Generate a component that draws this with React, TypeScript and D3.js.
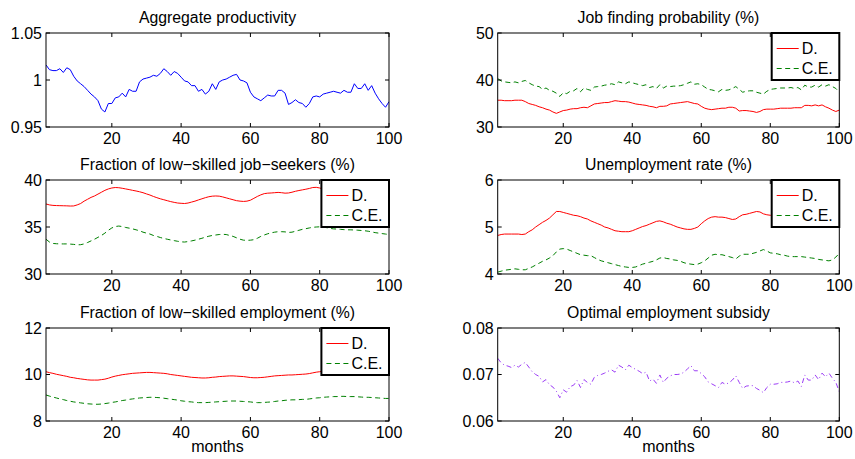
import React from "react";
import * as d3 from "d3";

// Simulated paths over 100 months
const months: number[] = d3.range(1, 101);

const productivity: number[] = [
  1.016, 1.011, 1.010, 1.010, 1.012, 1.008, 1.013, 1.011, 1.004, 0.999,
  0.996, 0.993, 0.989, 0.985, 0.982, 0.978, 0.969, 0.966, 0.975, 0.975,
  0.981, 0.982, 0.986, 0.982, 0.990, 0.988, 0.988, 0.998, 1.001, 1.002,
  1.003, 1.005, 1.004, 1.007, 1.012, 1.009, 1.005, 1.009, 1.007, 1.003,
  0.999, 0.998, 0.994, 0.994, 0.988, 0.990, 0.985, 0.988, 0.996, 0.990,
  0.998, 1.000, 1.001, 1.003, 1.005, 1.006, 1.000, 0.999, 0.997, 0.987,
  0.982, 0.980, 0.978, 0.981, 0.984, 0.983, 0.983, 0.989, 0.989, 0.986,
  0.974, 0.976, 0.979, 0.976, 0.975, 0.971, 0.975, 0.982, 0.983, 0.982,
  0.985, 0.986, 0.987, 0.988, 0.987, 0.986, 0.989, 0.987, 0.987, 0.996,
  0.991, 0.991, 0.996, 0.989, 0.994, 0.986, 0.980, 0.975, 0.971, 0.977,
];

const jobFindingD: number[] = [
  35.7, 35.7, 35.6, 35.6, 35.6, 35.7, 35.7, 35.7, 35.4, 35.0,
  34.8, 34.6, 34.3, 34.1, 33.8, 33.6, 33.2, 32.9, 33.2, 33.5,
  33.6, 33.8, 33.9, 33.9, 34.1, 34.2, 34.1, 34.5, 34.9, 35.0,
  35.1, 35.2, 35.2, 35.4, 35.6, 35.5, 35.4, 35.4, 35.3, 35.1,
  34.9, 34.8, 34.7, 34.6, 34.4, 34.3, 34.1, 34.4, 34.4, 34.5,
  34.9, 35.0, 35.1, 35.2, 35.3, 35.4, 35.2, 35.0, 34.9, 34.4,
  34.0, 33.8, 33.7, 33.8, 33.9, 34.0, 34.0, 34.2, 34.2, 34.0,
  33.4, 33.5, 33.5, 33.4, 33.3, 33.1, 33.3, 33.7, 33.8, 33.8,
  33.8, 33.9, 34.0, 34.0, 34.0, 34.0, 34.1, 34.1, 34.1, 34.6,
  34.6, 34.5, 34.7, 34.5, 34.7, 34.3, 34.0, 33.6, 33.3, 33.6,
];

const jobFindingCE: number[] = [
  40.3, 39.8, 39.6, 39.5, 39.4, 39.6, 39.4, 39.7, 39.9, 39.4,
  39.0, 38.7, 38.6, 38.0, 38.3, 37.8, 37.6, 37.2, 36.5, 37.3,
  37.1, 37.6, 37.7, 38.2, 37.5, 38.3, 38.0, 37.8, 38.5, 38.6,
  38.7, 38.9, 39.0, 39.2, 39.0, 39.6, 39.4, 39.2, 39.6, 39.4,
  39.2, 39.0, 38.8, 39.0, 38.4, 38.6, 38.2, 39.0, 38.3, 38.7,
  38.6, 38.7, 38.7, 38.8, 39.0, 39.3, 39.6, 39.1, 39.2, 39.0,
  38.5, 38.0, 37.9, 37.7, 37.5, 38.0, 37.8, 37.9, 38.2, 38.6,
  38.0, 37.4, 37.6, 37.7, 37.7, 37.4, 37.2, 37.0, 37.6, 38.0,
  38.1, 38.2, 38.3, 38.3, 38.3, 38.4, 38.2, 38.4, 37.9, 38.9,
  38.5, 38.5, 38.9, 38.5, 39.0, 38.7, 39.0, 38.6, 38.2, 37.4,
];

const seekersD: number[] = [
  37.45, 37.35, 37.3, 37.28, 37.27, 37.26, 37.25, 37.23, 37.24, 37.35,
  37.5, 37.75, 37.95, 38.15, 38.3, 38.5, 38.7, 38.9, 39.05, 39.15,
  39.2, 39.18, 39.12, 39.05, 38.98, 38.9, 38.83, 38.75, 38.65, 38.52,
  38.4, 38.25, 38.12, 38.0, 37.9, 37.8, 37.7, 37.62, 37.55, 37.52,
  37.5, 37.55, 37.65, 37.75, 37.88, 38.0, 38.12, 38.22, 38.28, 38.3,
  38.28, 38.2, 38.1, 38.0, 37.9, 37.8, 37.75, 37.72, 37.75, 37.85,
  38.05, 38.25, 38.42, 38.55, 38.6, 38.62, 38.65, 38.68, 38.65, 38.6,
  38.62, 38.7, 38.8, 38.88, 38.95, 39.02, 39.1, 39.2, 39.22, 39.15,
  39.05, 39.0, 38.95, 38.95, 38.95, 38.93, 38.9, 38.88, 38.86, 38.84,
  38.82, 38.8, 38.78, 38.75, 38.7, 38.65, 38.6, 38.57, 38.54, 38.5,
];

const seekersCE: number[] = [
  33.7, 33.4, 33.25, 33.22, 33.2, 33.2, 33.2, 33.18, 33.15, 33.1,
  33.12, 33.2, 33.35, 33.52, 33.7, 33.9, 34.1, 34.35, 34.65, 34.9,
  35.05, 35.1, 35.05, 34.95, 34.88, 34.8, 34.7, 34.6, 34.45, 34.35,
  34.25, 34.1, 34.0, 33.88, 33.78, 33.7, 33.62, 33.55, 33.48, 33.42,
  33.4, 33.45, 33.52, 33.6, 33.7, 33.8, 33.92, 34.02, 34.1, 34.15,
  34.2, 34.22, 34.2, 34.1, 34.0, 33.85, 33.7, 33.6, 33.58, 33.6,
  33.65, 33.8, 34.0, 34.15, 34.28, 34.38, 34.45, 34.5, 34.5, 34.48,
  34.42, 34.45, 34.55, 34.65, 34.75, 34.82, 34.9, 34.97, 35.0, 35.02,
  35.0, 34.93, 34.85, 34.8, 34.78, 34.75, 34.72, 34.7, 34.7, 34.68,
  34.66, 34.63, 34.6, 34.55, 34.48, 34.4, 34.35, 34.3, 34.25, 34.2,
];

const unempD: number[] = [
  4.82, 4.84, 4.85, 4.85, 4.85, 4.85, 4.85, 4.84, 4.85, 4.9,
  4.94, 5.0, 5.05, 5.1, 5.14, 5.19, 5.26, 5.33, 5.33, 5.31,
  5.29, 5.27, 5.25, 5.24, 5.22, 5.19, 5.17, 5.13, 5.1, 5.07,
  5.04, 5.0, 4.98, 4.95, 4.92, 4.91, 4.9, 4.9, 4.9, 4.92,
  4.95, 4.98, 5.01, 5.03, 5.06, 5.09, 5.12, 5.13, 5.11, 5.08,
  5.06, 5.03, 5.0, 4.98, 4.96, 4.95, 4.95, 4.97, 5.0, 5.07,
  5.13, 5.18, 5.21, 5.22, 5.21, 5.21, 5.2, 5.18, 5.16, 5.17,
  5.22, 5.26, 5.27, 5.29, 5.31, 5.33, 5.32, 5.28, 5.26, 5.25,
  5.24, 5.22, 5.2, 5.18, 5.17, 5.16, 5.15, 5.15, 5.15, 5.14,
  5.13, 5.12, 5.11, 5.1, 5.09, 5.08, 5.08, 5.1, 5.13, 5.17,
];

const unempCE: number[] = [
  4.04, 4.06, 4.08, 4.09, 4.1, 4.11, 4.1, 4.09, 4.09, 4.12,
  4.15, 4.19, 4.23, 4.27, 4.3, 4.34, 4.39, 4.47, 4.53, 4.54,
  4.53, 4.5, 4.47, 4.44, 4.41, 4.4, 4.39, 4.39, 4.35, 4.31,
  4.28, 4.26, 4.24, 4.22, 4.2, 4.18, 4.16, 4.15, 4.14, 4.14,
  4.15, 4.18, 4.21, 4.23, 4.25, 4.27, 4.3, 4.34, 4.35, 4.33,
  4.32, 4.3, 4.29, 4.27, 4.24, 4.22, 4.21, 4.2, 4.21, 4.24,
  4.28, 4.34, 4.4, 4.42, 4.41, 4.41, 4.39, 4.37, 4.35, 4.32,
  4.38, 4.42, 4.42, 4.42, 4.44, 4.46, 4.49, 4.52, 4.49, 4.45,
  4.44, 4.43, 4.41, 4.4, 4.38, 4.37, 4.37, 4.37, 4.37, 4.36,
  4.35, 4.34, 4.33, 4.31, 4.3, 4.29, 4.28, 4.3, 4.36, 4.44,
];

const employD: number[] = [
  10.12, 10.08, 10.05, 10.01, 9.98, 9.95, 9.92, 9.88, 9.86, 9.83,
  9.81, 9.79, 9.77, 9.76, 9.76, 9.76, 9.78, 9.8, 9.84, 9.89,
  9.93, 9.96, 9.99, 10.01, 10.03, 10.05, 10.06, 10.07, 10.08, 10.09,
  10.09, 10.08, 10.07, 10.06, 10.05, 10.03, 10.0, 9.98, 9.96, 9.94,
  9.92, 9.9, 9.88, 9.87, 9.86, 9.85, 9.85, 9.86, 9.88, 9.89,
  9.91, 9.92, 9.93, 9.94, 9.94, 9.93, 9.92, 9.91, 9.89, 9.87,
  9.86, 9.86, 9.87, 9.88, 9.9, 9.92, 9.94, 9.95, 9.96, 9.97,
  9.98, 9.98, 9.99, 10.0, 10.01, 10.02, 10.04, 10.07, 10.1, 10.12,
  10.14, 10.15, 10.16, 10.17, 10.17, 10.17, 10.16, 10.16, 10.15, 10.15,
  10.14, 10.14, 10.13, 10.13, 10.12, 10.12, 10.11, 10.11, 10.1, 10.1,
];

const employCE: number[] = [
  9.12, 9.07, 9.03, 8.99, 8.95, 8.92, 8.88, 8.85, 8.82, 8.8,
  8.78, 8.76, 8.74, 8.73, 8.72, 8.72, 8.73, 8.75, 8.77, 8.8,
  8.82, 8.85, 8.88, 8.9, 8.93, 8.95, 8.97, 8.99, 9.0, 9.01,
  9.02, 9.02, 9.01, 9.0, 8.98, 8.96, 8.94, 8.92, 8.9, 8.87,
  8.85, 8.83, 8.82, 8.8, 8.79, 8.79, 8.79, 8.8, 8.81, 8.82,
  8.83, 8.84, 8.85, 8.86, 8.86, 8.86, 8.85, 8.84, 8.83, 8.82,
  8.8, 8.79, 8.79, 8.8, 8.81, 8.82, 8.84, 8.86, 8.87, 8.89,
  8.9, 8.91, 8.91, 8.92, 8.93, 8.93, 8.95, 8.97, 8.99, 9.0,
  9.02, 9.03, 9.04, 9.05, 9.05, 9.06, 9.06, 9.05, 9.05, 9.05,
  9.04, 9.03, 9.02, 9.02, 9.01, 9.0, 8.99, 8.98, 8.97, 8.97,
];

const subsidy: number[] = [
  0.0735, 0.0725, 0.0720, 0.0718, 0.0715, 0.0720, 0.0716, 0.0722, 0.0726, 0.0716,
  0.0706, 0.0700, 0.0696, 0.0684, 0.0689, 0.0678, 0.0673, 0.0664, 0.0650, 0.0667,
  0.0662, 0.0674, 0.0677, 0.0687, 0.0672, 0.0689, 0.0683, 0.0679, 0.0694, 0.0698,
  0.0700, 0.0703, 0.0707, 0.0710, 0.0705, 0.0720, 0.0716, 0.0710, 0.0720, 0.0715,
  0.0711, 0.0707, 0.0702, 0.0705, 0.0686, 0.0690, 0.0681, 0.0699, 0.0683, 0.0692,
  0.0697, 0.0700, 0.0700, 0.0701, 0.0705, 0.0712, 0.0719, 0.0708, 0.0708, 0.0702,
  0.0695, 0.0684, 0.0680, 0.0676, 0.0672, 0.0683, 0.0679, 0.0682, 0.0688, 0.0697,
  0.0683, 0.0670, 0.0675, 0.0676, 0.0676, 0.0670, 0.0666, 0.0661, 0.0672, 0.0679,
  0.0679, 0.0680, 0.0683, 0.0683, 0.0684, 0.0686, 0.0682, 0.0686, 0.0674, 0.0699,
  0.0688, 0.0688, 0.0699, 0.0689, 0.0703, 0.0695, 0.0703, 0.0692, 0.0683, 0.0663,
];

const xTicks: number[] = [20, 40, 60, 80, 100];
const legendLabels: string[] = ["D.", "C.E."];

const FONT = "'Liberation Sans', Arial, Helvetica, sans-serif";
const RED = "#ff0000";
const GREEN = "#008000";
const DASH = "5,3.5";

type Series = { values: number[]; color: string; dash?: string };

type PanelProps = {
  id: string;
  x0: number;
  x1: number;
  y0: number;
  y1: number;
  title: string;
  yDomain: [number, number];
  yTicks: number[];
  series: Series[];
  legend?: boolean;
  xLabel?: string;
};

function Panel({ id, x0, x1, y0, y1, title, yDomain, yTicks, series, legend, xLabel }: PanelProps) {
  const xs = d3.scaleLinear().domain([1, 100]).range([x0, x1]);
  const ys = d3.scaleLinear().domain(yDomain).range([y1, y0]);
  const line = d3
    .line<number>()
    .x((_, i) => xs(months[i]))
    .y((d) => ys(d));
  const tl = 4;
  const lw = 67.6;
  const lh = 47;
  const lx = x1 - lw;
  const ly = y0;
  return (
    <g>
      <defs>
        <clipPath id={id}>
          <rect x={x0} y={y0} width={x1 - x0} height={y1 - y0} />
        </clipPath>
      </defs>
      <g clipPath={`url(#${id})`}>
        {series.map((s, i) => (
          <path
            key={i}
            d={line(s.values) || ""}
            fill="none"
            stroke={s.color}
            strokeWidth={1}
            strokeDasharray={s.dash}
          />
        ))}
      </g>
      <rect x={x0} y={y0} width={x1 - x0} height={y1 - y0} fill="none" stroke="#000" strokeWidth={1} />
      {yTicks.map((t) => (
        <g key={`y${t}`}>
          <line x1={x0} x2={x0 + tl} y1={ys(t)} y2={ys(t)} stroke="#000" />
          <line x1={x1 - tl} x2={x1} y1={ys(t)} y2={ys(t)} stroke="#000" />
          <text x={x0 - 4} y={ys(t) + 5.5} textAnchor="end" fontSize={16} fontFamily={FONT} fill="#000">
            {String(t)}
          </text>
        </g>
      ))}
      {xTicks.map((t) => (
        <g key={`x${t}`}>
          <line x1={xs(t)} x2={xs(t)} y1={y1} y2={y1 - tl} stroke="#000" />
          <line x1={xs(t)} x2={xs(t)} y1={y0} y2={y0 + tl} stroke="#000" />
          <text x={xs(t)} y={y1 + 16.5} textAnchor="middle" fontSize={16} fontFamily={FONT} fill="#000">
            {t}
          </text>
        </g>
      ))}
      <text x={(x0 + x1) / 2} y={y0 - 10} textAnchor="middle" fontSize={15.8} fontFamily={FONT} fill="#000">
        {title}
      </text>
      {xLabel && (
        <text x={(x0 + x1) / 2} y={y1 + 31} textAnchor="middle" fontSize={16} fontFamily={FONT} fill="#000">
          {xLabel}
        </text>
      )}
      {legend && (
        <g>
          <rect x={lx} y={ly} width={lw} height={lh} fill="#fff" stroke="#000" strokeWidth={2} />
          {series.map((s, i) => {
            const cy = ly + 15.5 + i * 20;
            return (
              <g key={`l${i}`}>
                <line x1={lx + 5} x2={lx + 27} y1={cy} y2={cy} stroke={s.color} strokeDasharray={s.dash} />
                <text x={lx + 30} y={cy + 5.5} fontSize={16} fontFamily={FONT} fill="#000">
                  {legendLabels[i]}
                </text>
              </g>
            );
          })}
        </g>
      )}
    </g>
  );
}

const COLS = [
  { x0: 46, x1: 389 },
  { x0: 497.7, x1: 839.3 },
];
const ROWS = [
  { y0: 33, y1: 127 },
  { y0: 180, y1: 274 },
  { y0: 328, y1: 421 },
];

export default function App() {
  return (
    <svg
      width={855}
      height={459}
      viewBox="0 0 855 459"
      style={{ position: "absolute", left: 0, top: 0, background: "#fff" }}
    >
      <rect width={855} height={459} fill="#fff" />
      <Panel
        id="c1"
        {...COLS[0]}
        {...ROWS[0]}
        title="Aggregate productivity"
        yDomain={[0.95, 1.05]}
        yTicks={[0.95, 1, 1.05]}
        series={[{ values: productivity, color: "#0000ff" }]}
      />
      <Panel
        id="c2"
        {...COLS[1]}
        {...ROWS[0]}
        title="Job finding probability (%)"
        yDomain={[30, 50]}
        yTicks={[30, 40, 50]}
        series={[
          { values: jobFindingD, color: RED },
          { values: jobFindingCE, color: GREEN, dash: DASH },
        ]}
        legend
      />
      <Panel
        id="c3"
        {...COLS[0]}
        {...ROWS[1]}
        title="Fraction of low−skilled job−seekers (%)"
        yDomain={[30, 40]}
        yTicks={[30, 35, 40]}
        series={[
          { values: seekersD, color: RED },
          { values: seekersCE, color: GREEN, dash: DASH },
        ]}
        legend
      />
      <Panel
        id="c4"
        {...COLS[1]}
        {...ROWS[1]}
        title="Unemployment rate (%)"
        yDomain={[4, 6]}
        yTicks={[4, 5, 6]}
        series={[
          { values: unempD, color: RED },
          { values: unempCE, color: GREEN, dash: DASH },
        ]}
        legend
      />
      <Panel
        id="c5"
        {...COLS[0]}
        {...ROWS[2]}
        title="Fraction of low−skilled employment (%)"
        yDomain={[8, 12]}
        yTicks={[8, 10, 12]}
        series={[
          { values: employD, color: RED },
          { values: employCE, color: GREEN, dash: DASH },
        ]}
        legend
        xLabel="months"
      />
      <Panel
        id="c6"
        {...COLS[1]}
        {...ROWS[2]}
        title="Optimal employment subsidy"
        yDomain={[0.06, 0.08]}
        yTicks={[0.06, 0.07, 0.08]}
        series={[{ values: subsidy, color: "#9b3cf5", dash: "5,3,1,3" }]}
        xLabel="months"
      />
    </svg>
  );
}
